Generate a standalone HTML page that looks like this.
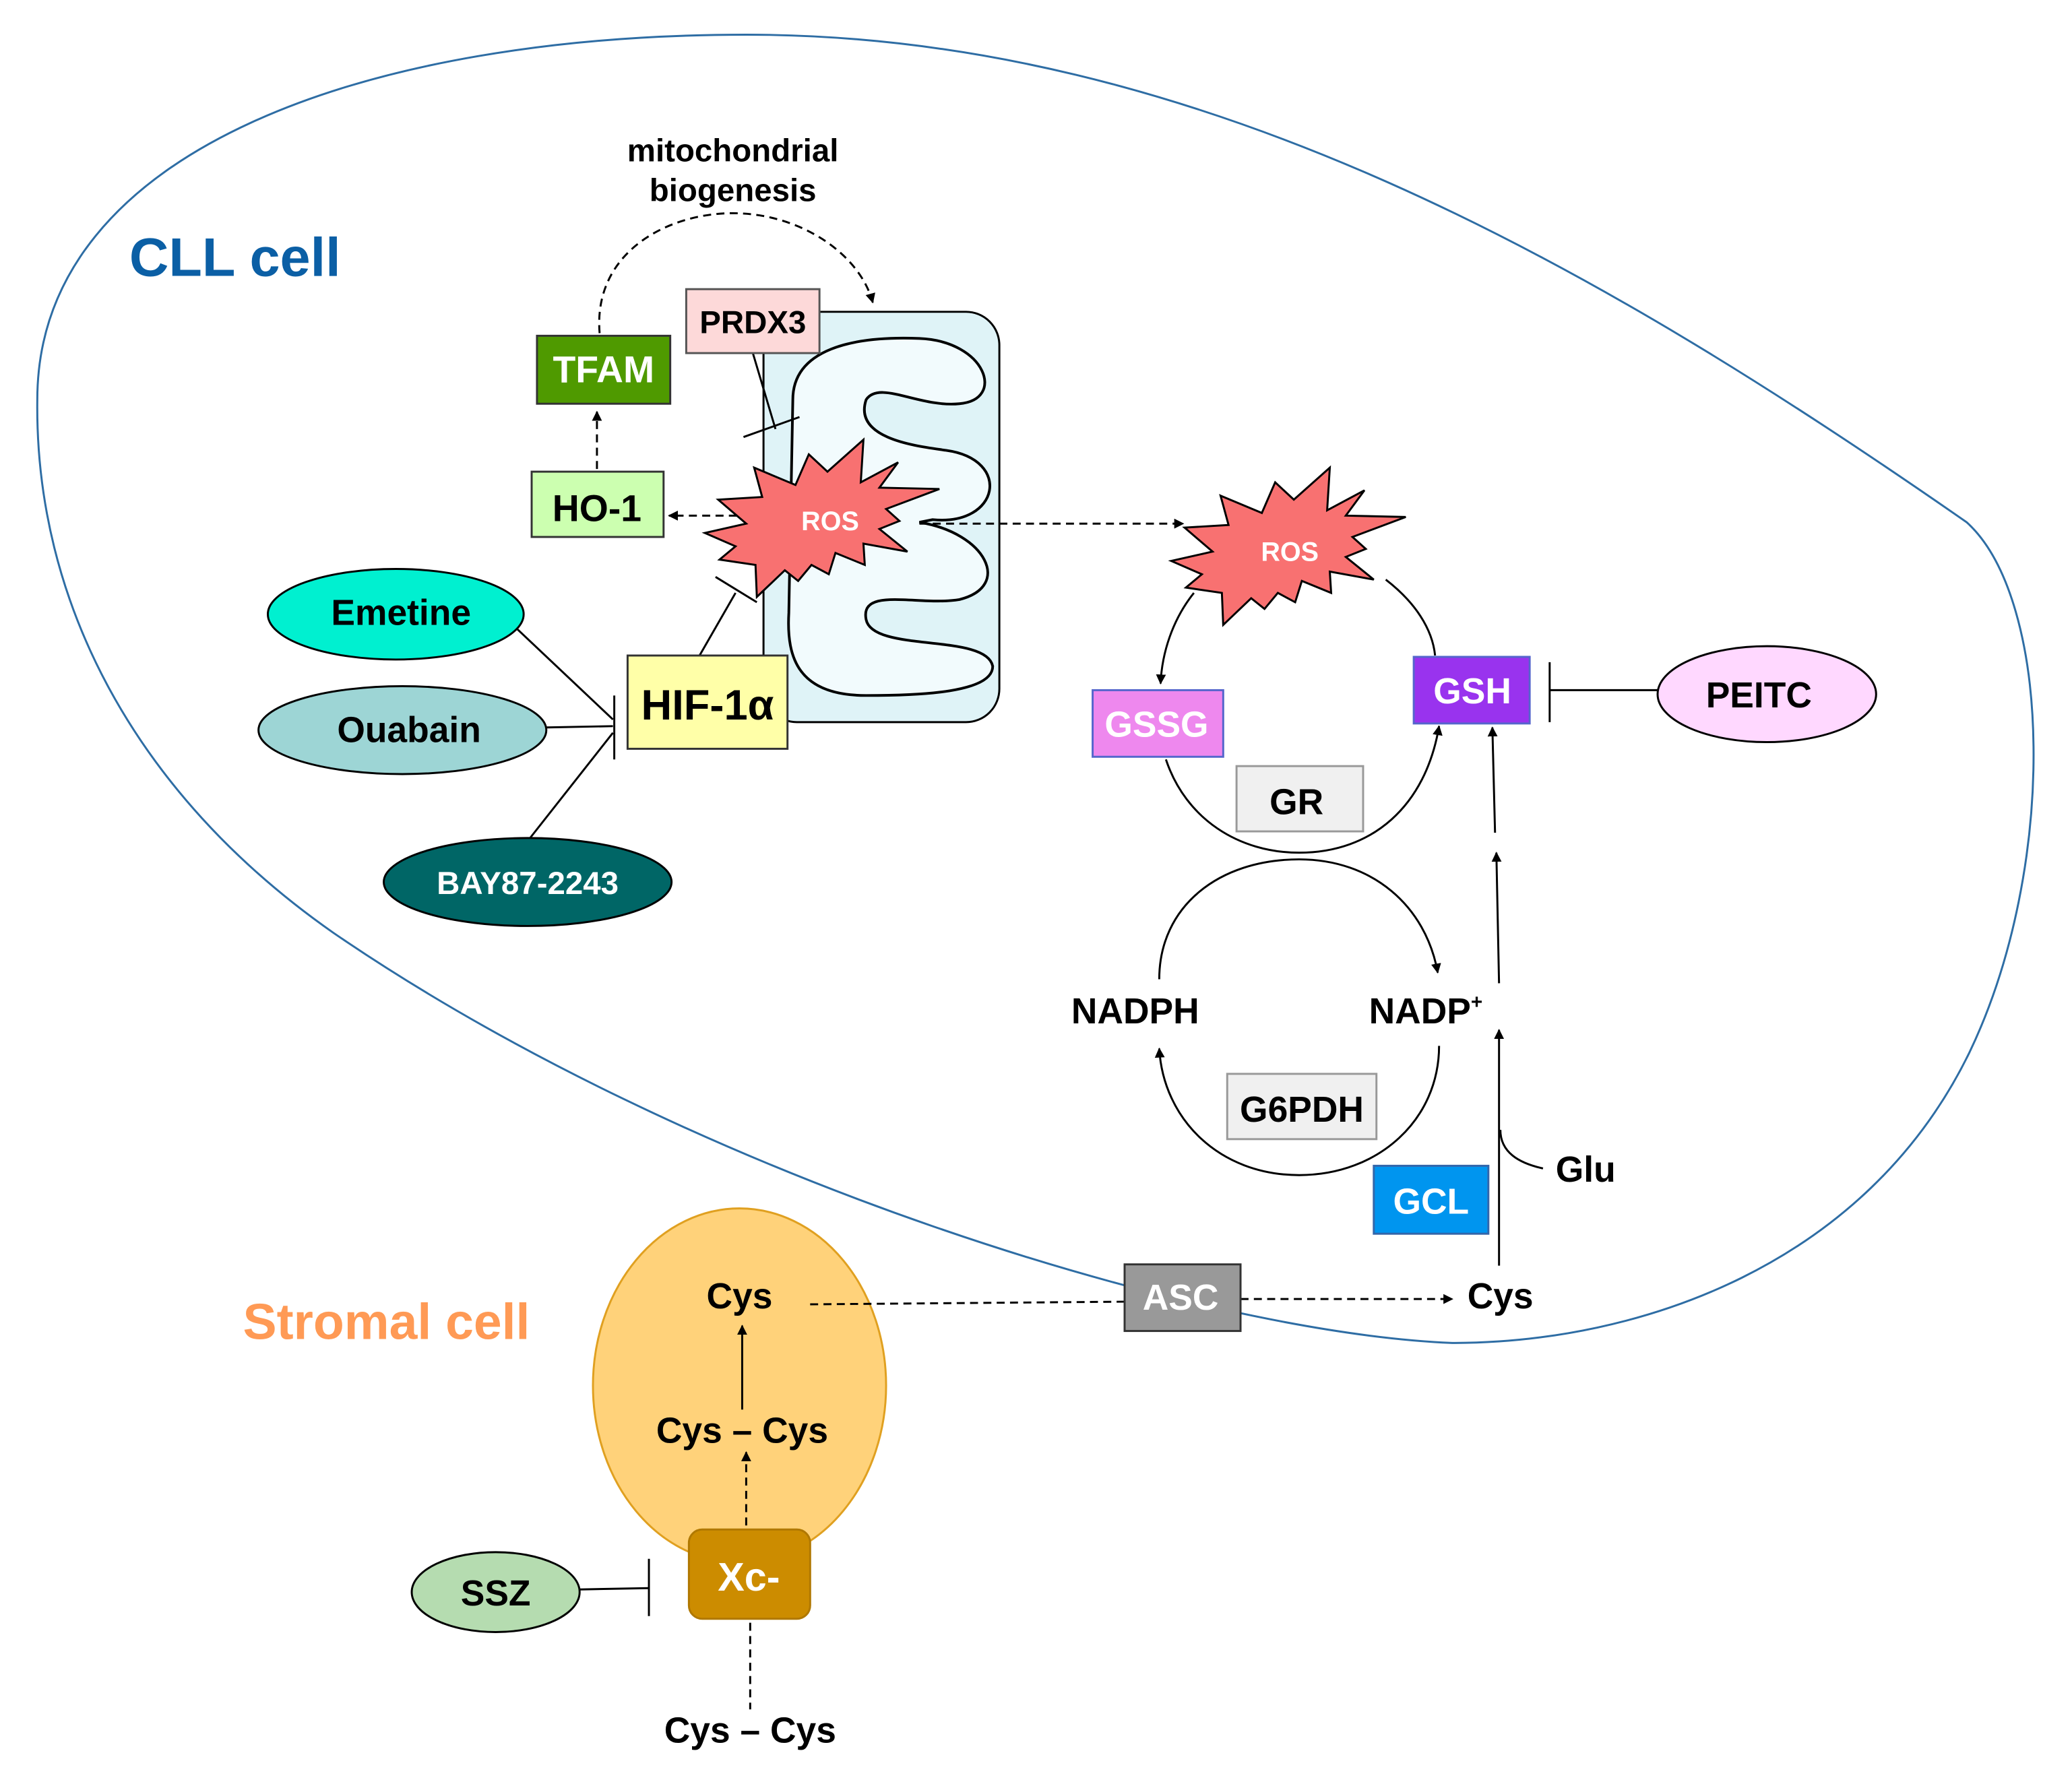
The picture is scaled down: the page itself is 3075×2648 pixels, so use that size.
<!DOCTYPE html>
<html><head><meta charset="utf-8"><style>
html,body{margin:0;padding:0;background:#fff;}
svg{display:block;}
text{font-family:"Liberation Sans",Arial,sans-serif;font-weight:bold;}
</style></head><body>
<svg width="3075" height="2648" viewBox="0 0 1555 1339" xmlns="http://www.w3.org/2000/svg">
<defs>
<marker id="ah" viewBox="0 0 10 10" refX="9" refY="5" markerWidth="5" markerHeight="5" orient="auto"><path d="M0,0 L10,5 L0,10 z" fill="#000"/></marker>
<polygon id="star" points="916,372 947,385 957,362 971,375 998,351 996,383 1024,368 1010,387 1055,388 1015,403 1025,412 1010,418 1031,435 998,429 999,445 977,436 972,452 959,445 949,457 939,449 918,469 917,445 890,441 902,431 879,421 910,414 889,396 922,394"/>
</defs>
<rect width="1555" height="1339" fill="#fff"/>
<path d="M28,300 C28,110 280,26 560,26 C900,26 1200,200 1476,392 C1540,450 1545,650 1478,790 C1400,950 1230,1008 1090,1008 C900,1000 520,885 250,700 C100,595 26,450 28,300 Z" fill="none" stroke="#2e6da4" stroke-width="1.5"/>
<text x="97" y="207" font-size="41" fill="#0b5fa5">CLL cell</text>
<text x="550" y="121" font-size="24" text-anchor="middle">mitochondrial</text>
<text x="550" y="151" font-size="24" text-anchor="middle">biogenesis</text>
<path d="M450,250 C445,190 500,160 550,160 C600,160 645,190 655,227" fill="none" stroke="#000" stroke-width="1.5" stroke-dasharray="6,4" marker-end="url(#ah)"/>
<rect x="573" y="234" width="177" height="308" rx="25" fill="#dff3f7" stroke="#000" stroke-width="1.5"/>
<path d="M595,300 C595,262 640,252 690,254 C740,256 755,300 720,303 C690,306 660,285 650,300 C640,330 690,335 710,338 C760,345 750,395 700,390 L690,392 C740,400 760,440 720,450 C690,455 645,440 650,465 C655,490 740,475 745,500 C745,520 690,522 650,522 C600,522 590,495 592,460 Z" fill="#f2fbfd" stroke="#000" stroke-width="2"/>
<line x1="565" y1="265" x2="582" y2="322" stroke="#000" stroke-width="1.5"/>
<line x1="558" y1="328" x2="600" y2="313" stroke="#000" stroke-width="1.5"/>
<rect x="515" y="217" width="100" height="48" fill="#fdd9d9" stroke="#555" stroke-width="1.5"/>
<text x="565" y="250" font-size="24" text-anchor="middle">PRDX3</text>
<use href="#star" transform="translate(-350,-21)" fill="#f87171" stroke="#000" stroke-width="1.5"/>
<text x="623" y="398" font-size="20" fill="#fff" text-anchor="middle">ROS</text>
<line x1="553" y1="387" x2="502" y2="387" stroke="#000" stroke-width="1.5" stroke-dasharray="6,4" marker-end="url(#ah)"/>
<line x1="690" y1="393" x2="888" y2="393" stroke="#000" stroke-width="1.5" stroke-dasharray="6,4" marker-end="url(#ah)"/>
<rect x="403" y="252" width="100" height="51" fill="#4f9a00" stroke="#333" stroke-width="1.5"/>
<text x="453" y="287" font-size="28" fill="#fff" text-anchor="middle">TFAM</text>
<line x1="448" y1="352" x2="448" y2="309" stroke="#000" stroke-width="1.5" stroke-dasharray="6,4" marker-end="url(#ah)"/>
<rect x="399" y="354" width="99" height="49" fill="#ccffb0" stroke="#333" stroke-width="1.5"/>
<text x="448" y="391" font-size="28" text-anchor="middle">HO-1</text>
<line x1="525" y1="492" x2="552" y2="445" stroke="#000" stroke-width="1.5"/>
<line x1="537" y1="433" x2="568" y2="452" stroke="#000" stroke-width="1.5"/>
<rect x="471" y="492" width="120" height="70" fill="#ffffa8" stroke="#333" stroke-width="1.5"/>
<text x="531" y="540" font-size="32" text-anchor="middle">HIF-1α</text>
<line x1="388" y1="472" x2="460" y2="540" stroke="#000" stroke-width="1.5"/>
<line x1="410" y1="546" x2="460" y2="545" stroke="#000" stroke-width="1.5"/>
<line x1="397" y1="630" x2="460" y2="550" stroke="#000" stroke-width="1.5"/>
<line x1="461" y1="522" x2="461" y2="570" stroke="#000" stroke-width="1.5"/>
<ellipse cx="297" cy="461" rx="96" ry="34" fill="#00f0d0" stroke="#000" stroke-width="1.5"/>
<text x="301" y="469" font-size="27" text-anchor="middle">Emetine</text>
<ellipse cx="302" cy="548" rx="108" ry="33" fill="#9dd5d5" stroke="#000" stroke-width="1.5"/>
<text x="307" y="557" font-size="27" text-anchor="middle">Ouabain</text>
<ellipse cx="396" cy="662" rx="108" ry="33" fill="#006666" stroke="#000" stroke-width="1.5"/>
<text x="396" y="671" font-size="24" fill="#fff" text-anchor="middle">BAY87-2243</text>
<path d="M896,445 C880,465 872,490 871,513" fill="none" stroke="#000" stroke-width="1.5" marker-end="url(#ah)"/>
<path d="M1040,435 C1062,452 1075,472 1077,492" fill="none" stroke="#000" stroke-width="1.5"/>
<path d="M875,570 C890,615 930,640 975,640 C1030,640 1070,605 1080,545" fill="none" stroke="#000" stroke-width="1.5" marker-end="url(#ah)"/>
<use href="#star" fill="#f87171" stroke="#000" stroke-width="1.5"/>
<text x="968" y="421" font-size="20" fill="#fff" text-anchor="middle">ROS</text>
<rect x="820" y="518" width="98" height="50" fill="#ee88ee" stroke="#5566cc" stroke-width="1.5"/>
<text x="868" y="553" font-size="27" fill="#fff" text-anchor="middle">GSSG</text>
<rect x="1061" y="493" width="87" height="50" fill="#9933ee" stroke="#5566cc" stroke-width="1.5"/>
<text x="1105" y="528" font-size="27" fill="#fff" text-anchor="middle">GSH</text>
<rect x="928" y="575" width="95" height="49" fill="#f0f0f0" stroke="#999" stroke-width="1.5"/>
<text x="973" y="611" font-size="27" text-anchor="middle">GR</text>
<line x1="1244" y1="518" x2="1163" y2="518" stroke="#000" stroke-width="1.5"/>
<line x1="1163" y1="497" x2="1163" y2="542" stroke="#000" stroke-width="1.5"/>
<ellipse cx="1326" cy="521" rx="82" ry="36" fill="#ffd8ff" stroke="#000" stroke-width="1.5"/>
<text x="1320" y="531" font-size="27" text-anchor="middle">PEITC</text>
<path d="M870,735 C870,680 915,645 975,645 C1030,645 1070,680 1079,730" fill="none" stroke="#000" stroke-width="1.5" marker-end="url(#ah)"/>
<path d="M1080,785 C1080,840 1035,882 975,882 C915,882 873,840 870,787" fill="none" stroke="#000" stroke-width="1.5" marker-end="url(#ah)"/>
<text x="852" y="768" font-size="27" text-anchor="middle">NADPH</text>
<text x="1070" y="768" font-size="27" text-anchor="middle">NADP<tspan font-size="15" dy="-11">+</tspan></text>
<rect x="921" y="806" width="112" height="49" fill="#f0f0f0" stroke="#999" stroke-width="1.5"/>
<text x="977" y="842" font-size="27" text-anchor="middle">G6PDH</text>
<line x1="1125" y1="950" x2="1125" y2="773" stroke="#000" stroke-width="1.5" marker-end="url(#ah)"/>
<line x1="1125" y1="738" x2="1123" y2="640" stroke="#000" stroke-width="1.5" marker-end="url(#ah)"/>
<line x1="1122" y1="625" x2="1120" y2="546" stroke="#000" stroke-width="1.5" marker-end="url(#ah)"/>
<path d="M1158,877 C1140,873 1126,865 1126,848" fill="none" stroke="#000" stroke-width="1.5"/>
<text x="1190" y="887" font-size="27" text-anchor="middle">Glu</text>
<rect x="1031" y="875" width="86" height="51" fill="#0095ef" stroke="#3366aa" stroke-width="1.5"/>
<text x="1074" y="911" font-size="27" fill="#fff" text-anchor="middle">GCL</text>
<text x="290" y="1005" font-size="38" fill="#ff9a55" text-anchor="middle">Stromal cell</text>
<ellipse cx="555" cy="1040" rx="110" ry="133" fill="#ffd27a" stroke="#e0a020" stroke-width="1.5"/>
<line x1="608" y1="979" x2="844" y2="977" stroke="#000" stroke-width="1.5" stroke-dasharray="6,4"/>
<line x1="931" y1="975" x2="1090" y2="975" stroke="#000" stroke-width="1.5" stroke-dasharray="6,4" marker-end="url(#ah)"/>
<rect x="844" y="949" width="87" height="50" fill="#999" stroke="#333" stroke-width="1.5"/>
<text x="886" y="983" font-size="27" fill="#fff" text-anchor="middle">ASC</text>
<text x="1126" y="982" font-size="27" text-anchor="middle">Cys</text>
<text x="555" y="982" font-size="27" text-anchor="middle">Cys</text>
<line x1="557" y1="1058" x2="557" y2="995" stroke="#000" stroke-width="1.5" marker-end="url(#ah)"/>
<text x="557" y="1083" font-size="27" text-anchor="middle">Cys – Cys</text>
<line x1="560" y1="1145" x2="560" y2="1090" stroke="#000" stroke-width="1.5" stroke-dasharray="6,4" marker-end="url(#ah)"/>
<rect x="517" y="1148" width="91" height="67" rx="10" fill="#cc8c00" stroke="#b07800" stroke-width="1.5"/>
<text x="562" y="1194" font-size="30" fill="#fff" text-anchor="middle">Xc-</text>
<line x1="435" y1="1193" x2="487" y2="1192" stroke="#000" stroke-width="1.5"/>
<line x1="487" y1="1170" x2="487" y2="1213" stroke="#000" stroke-width="1.5"/>
<ellipse cx="372" cy="1195" rx="63" ry="30" fill="#b5dcb0" stroke="#000" stroke-width="1.5"/>
<text x="372" y="1205" font-size="27" text-anchor="middle">SSZ</text>
<line x1="563" y1="1218" x2="563" y2="1283" stroke="#000" stroke-width="1.5" stroke-dasharray="6,4"/>
<text x="563" y="1308" font-size="27" text-anchor="middle">Cys – Cys</text>
</svg>
</body></html>
